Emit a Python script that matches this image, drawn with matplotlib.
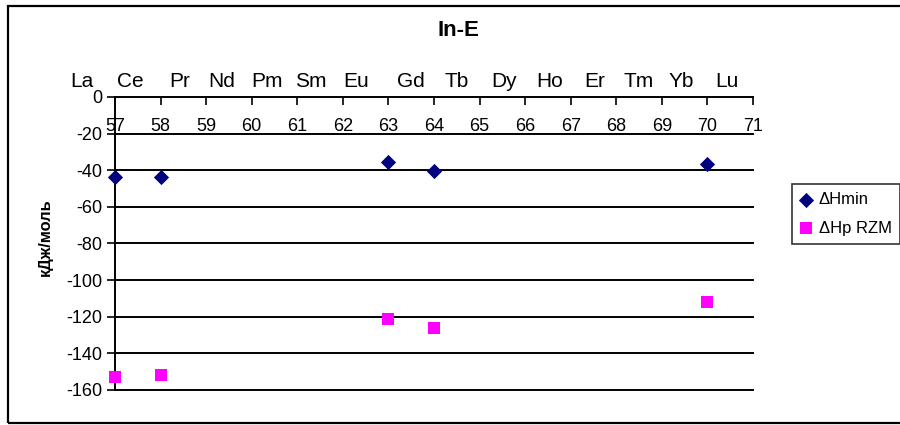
import matplotlib
matplotlib.use("Agg")
import matplotlib.pyplot as plt
from matplotlib.patches import Rectangle
import matplotlib.transforms as mtransforms

plt.rcParams['font.family'] = ['Liberation Sans', 'DejaVu Sans']

# ---- data ----
atomic_numbers = [57, 58, 63, 64, 70]
dh_min = [-43.9, -43.9, -35.3, -40.2, -36.6]
dh_rzm = [-152.8, -152.0, -121.5, -126.0, -112.2]
elements = ["La", "Ce", "Pr", "Nd", "Pm", "Sm", "Eu", "Gd", "Tb", "Dy",
            "Ho", "Er", "Tm", "Yb", "Lu"]
element_x = [56.28, 57.33, 58.43, 59.35, 60.33, 61.30, 62.30, 63.50, 64.50,
             65.53, 66.54, 67.53, 68.50, 69.43, 70.42]
x_ticks = list(range(57, 72))
y_ticks = list(range(0, -161, -20))

W, H = 900, 425
fig = plt.figure(figsize=(W / 100, H / 100), dpi=100)
ax = fig.add_axes([115 / W, 1 - 390 / H, (753 - 115) / W, (390 - 97) / H])

ax.set_xlim(57, 71)
ax.set_ylim(-160, 0)

ax.scatter(atomic_numbers, dh_min, marker='D', s=60, color='#000080',
           label='\u0394Hmin', zorder=5, clip_on=False, linewidths=0)
ax.scatter(atomic_numbers, dh_rzm, marker='s', s=85, color='#FF00FF',
           label='\u0394Hp RZM', zorder=5, clip_on=False, linewidths=0)

# grid lines
for yv in y_ticks[1:]:
    ax.axhline(yv, color='black', lw=1.4, zorder=1, clip_on=False)

# spines
ax.spines['right'].set_visible(False)
ax.spines['top'].set_visible(False)
ax.spines['bottom'].set_position(('data', 0))
ax.spines['bottom'].set_linewidth(1.4)
ax.spines['left'].set_linewidth(1.4)

ax.set_xticks(x_ticks)
ax.set_xticklabels([str(v) for v in x_ticks])
ax.tick_params(axis='x', direction='out', length=6, width=1.2, pad=9,
               labelsize=13)
ax.set_yticks(y_ticks)
ax.set_yticklabels([str(v) for v in y_ticks])
ax.tick_params(axis='y', direction='out', length=6, width=1.2, pad=3,
               labelsize=13)

# element labels above plot
trans = mtransforms.blended_transform_factory(ax.transData, ax.transAxes)
for name, xv in zip(elements, element_x):
    ax.text(xv, 1 + 15 / 293, name, transform=trans, ha='center',
            va='center', fontsize=15)

# title and y label
fig.text(458 / W, 1 - 31 / H, 'In-E', ha='center', va='center',
         fontsize=16, fontweight='bold')
fig.text(45 / W, 1 - 237 / H, 'кДж/моль', ha='center', va='center',
         rotation=90, fontsize=11.8, fontweight='bold')

# legend
leg = fig.legend(loc='upper left', bbox_to_anchor=(792 / W, 1 - 184 / H),
                 frameon=True, fancybox=False, fontsize=12,
                 handlelength=0.7, handletextpad=0.4, borderpad=0.5,
                 labelspacing=0.8, borderaxespad=0)
leg.get_frame().set_edgecolor('black')
leg.get_frame().set_linewidth(1.2)

# outer frame
fig.patches.append(Rectangle((8 / W, 1 - 423 / H), (W + 10) / W,
                             (423 - 6) / H, transform=fig.transFigure,
                             fill=False, edgecolor='black', lw=1.6))

fig.savefig('out.png', dpi=100)
